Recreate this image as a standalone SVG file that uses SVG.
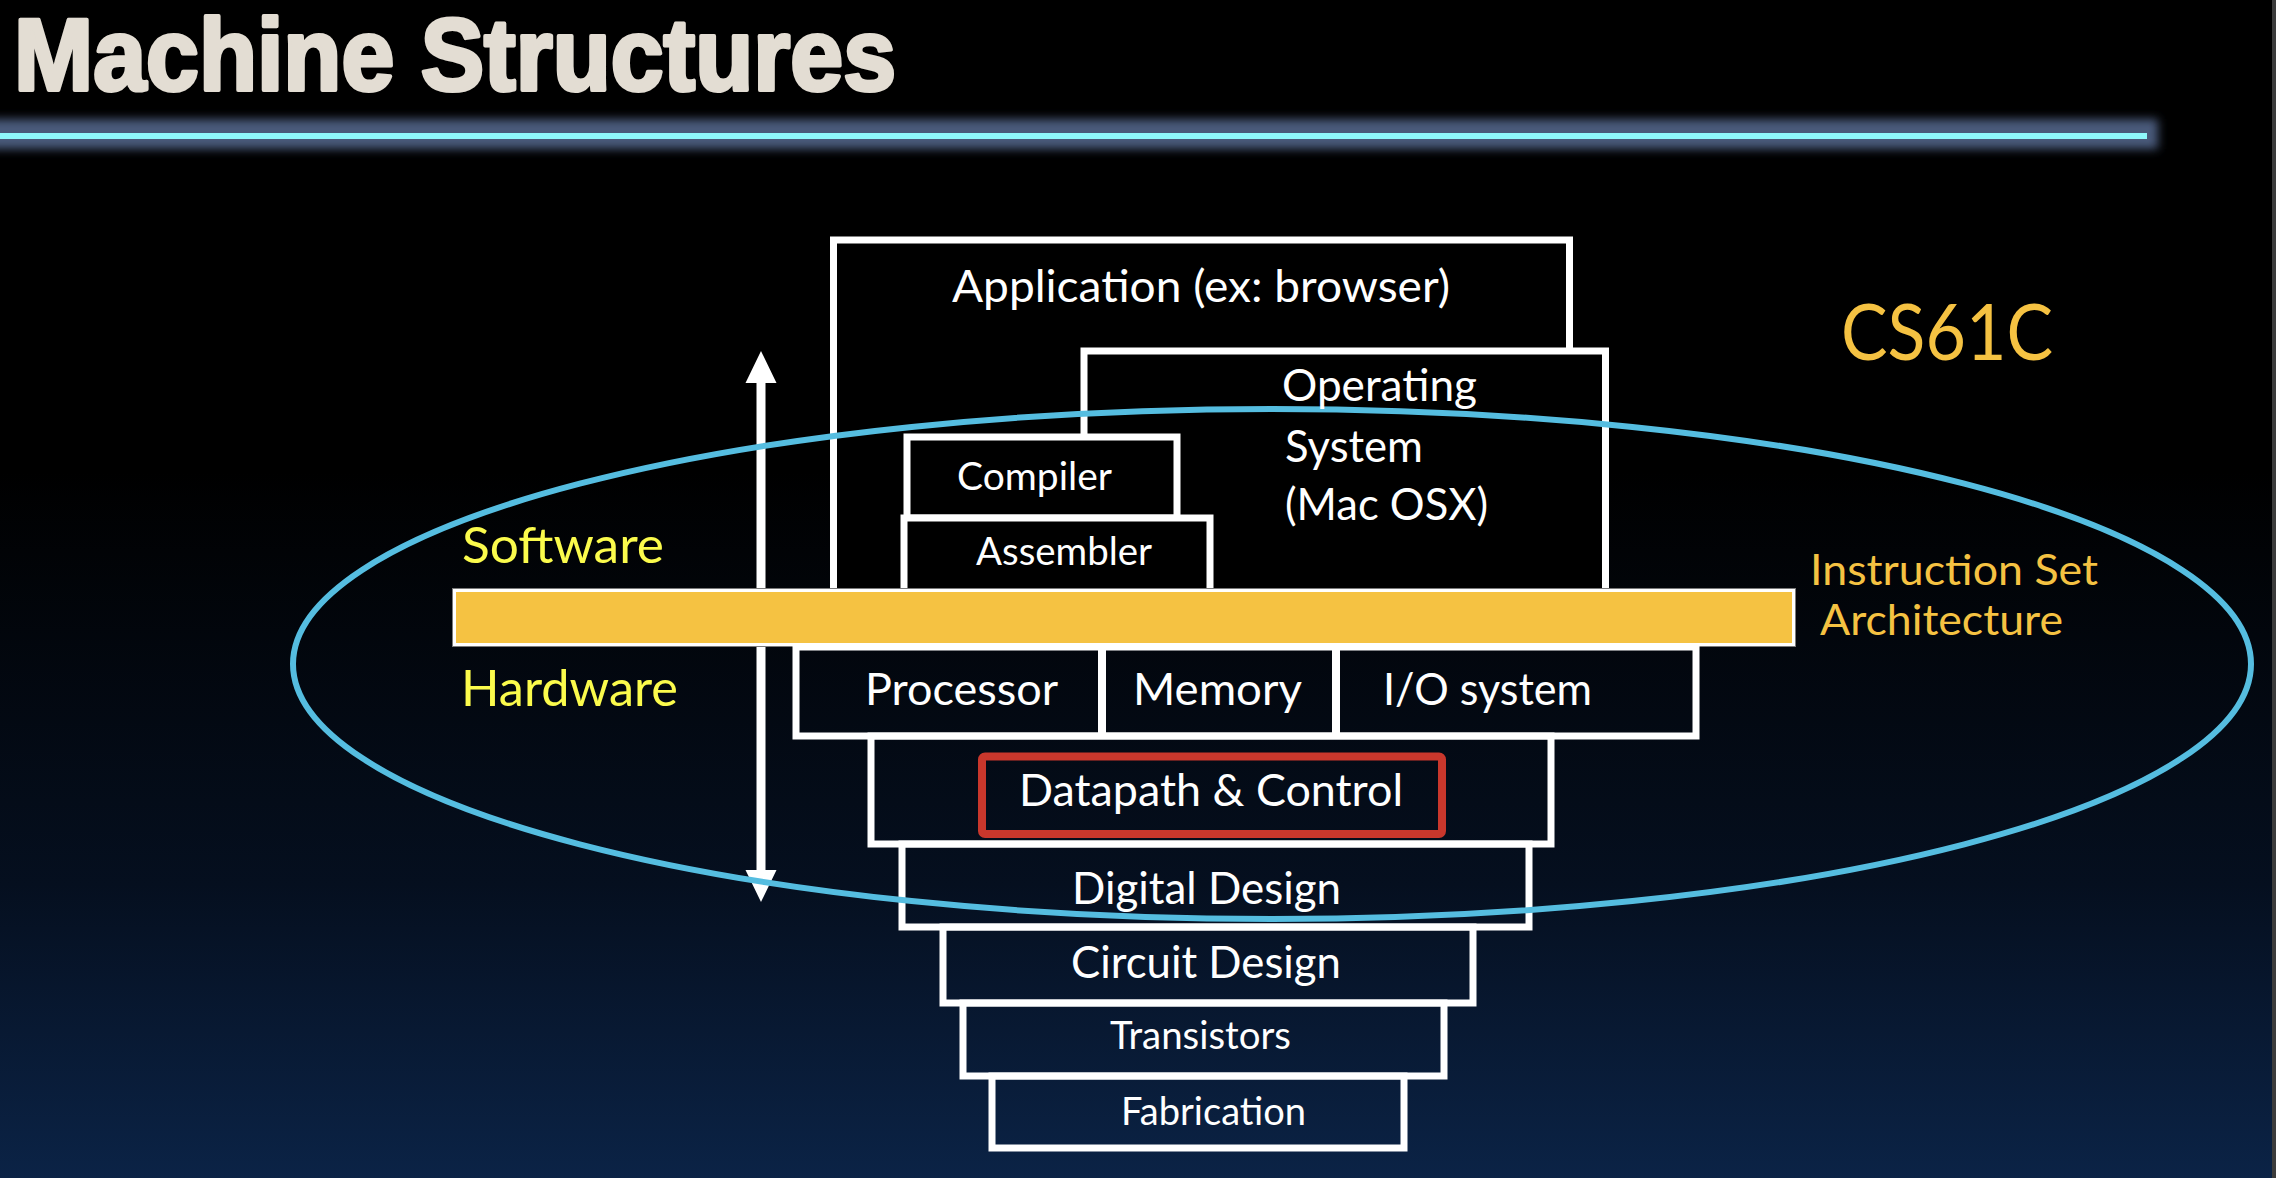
<svg xmlns="http://www.w3.org/2000/svg" width="2276" height="1178" viewBox="0 0 2276 1178">
<defs>
<linearGradient id="bg" x1="0" y1="0" x2="0" y2="1">
<stop offset="0" stop-color="#000000"/>
<stop offset="0.4" stop-color="#000000"/>
<stop offset="0.75" stop-color="#050f1f"/>
<stop offset="1" stop-color="#0b2346"/>
</linearGradient>
<filter id="glow" x="-5%" y="-100%" width="110%" height="300%">
<feGaussianBlur stdDeviation="5"/>
</filter>
</defs>
<style>
.title{font-family:"Liberation Sans",Arial,sans-serif;font-weight:bold;fill:#e3ddd3;stroke:#e3ddd3;stroke-width:4;stroke-linejoin:round}
.t{font-family:Lato,"Open Sans",sans-serif;fill:#ffffff}
.y{font-family:Lato,"Open Sans",sans-serif;fill:#fbfb4c}
.o{font-family:Lato,"Open Sans",sans-serif;fill:#f5c242}
.box{fill:#000000;stroke:#ffffff;stroke-width:7}
.hw{fill:none;stroke:#ffffff;stroke-width:7}
.arrow{fill:#ffffff}
</style>
<rect x="0" y="0" width="2276" height="1178" fill="url(#bg)"/>
<rect x="2272" y="0" width="4" height="1178" fill="#3c3c3c"/>

<g id="title">
<rect x="-20" y="119" width="2178" height="30" fill="#4a5a7a" filter="url(#glow)"/>
<rect x="0" y="133" width="2147" height="6" fill="#8ef8fb"/>
<text class="title" x="14" y="90" font-size="102" textLength="882" lengthAdjust="spacingAndGlyphs">Machine Structures</text>
</g>

<g id="connectors">
<path class="arrow" d="M761,351 L776.5,383 L765.5,383 L765.5,870 L776.5,870 L761,902 L745.5,870 L756.5,870 L756.5,383 L745.5,383 Z"/>
</g>

<g id="application"><rect class="box" x="833.5" y="240" width="736" height="360"/></g>
<g id="os"><rect class="box" x="1084" y="351" width="521.5" height="250"/></g>
<g id="compiler"><rect class="box" x="907" y="437" width="270" height="81"/></g>
<g id="assembler"><rect class="box" x="904" y="518" width="306" height="80"/></g>

<g id="isa">
<rect x="454.5" y="590.5" width="1339" height="54" fill="none" stroke="#7a7a7a" stroke-width="5"/>
<rect x="454.5" y="590.5" width="1339" height="54" fill="#f5c242" stroke="#ffffff" stroke-width="3"/>
</g>

<g id="row">
<rect class="hw" x="796" y="647" width="900" height="89"/>
<line x1="1102" y1="647" x2="1102" y2="736" stroke="#ffffff" stroke-width="8"/>
<line x1="1336" y1="647" x2="1336" y2="736" stroke="#ffffff" stroke-width="8"/>
</g>
<g id="datapath-box"><rect class="hw" x="871" y="736" width="680" height="108"/></g>
<g id="datapath-control"><rect x="982" y="756.5" width="460" height="77.5" rx="3" fill="none" stroke="#c9372c" stroke-width="8"/></g>
<g id="digital"><rect class="hw" x="902" y="844" width="627" height="83"/></g>
<g id="circuit"><rect class="hw" x="943" y="927" width="530" height="76"/></g>
<g id="transistors"><rect class="hw" x="963" y="1003" width="481" height="73"/></g>
<g id="fabrication"><rect class="hw" x="992" y="1076" width="412" height="72"/></g>

<g id="ellipse"><ellipse cx="1272" cy="664" rx="979" ry="255" fill="none" stroke="#55bde0" stroke-width="6"/></g>

<g id="labels">
<text class="t" x="952" y="302" font-size="44" textLength="498" lengthAdjust="spacingAndGlyphs">Application (ex: browser)</text>
<text class="t" x="1282" y="401" font-size="44" textLength="195" lengthAdjust="spacingAndGlyphs">Operating</text>
<text class="t" x="1285" y="462" font-size="44" textLength="138" lengthAdjust="spacingAndGlyphs">System</text>
<text class="t" x="1285" y="520" font-size="44" textLength="203" lengthAdjust="spacingAndGlyphs">(Mac OSX)</text>
<text class="t" x="957" y="490" font-size="39" textLength="155" lengthAdjust="spacingAndGlyphs">Compiler</text>
<text class="t" x="976" y="565" font-size="39" textLength="176" lengthAdjust="spacingAndGlyphs">Assembler</text>
<text class="t" x="865" y="705" font-size="44" textLength="193" lengthAdjust="spacingAndGlyphs">Processor</text>
<text class="t" x="1133" y="705" font-size="44" textLength="169" lengthAdjust="spacingAndGlyphs">Memory</text>
<text class="t" x="1383" y="705" font-size="44" textLength="209" lengthAdjust="spacingAndGlyphs">I/O system</text>
<text class="t" x="1019" y="806" font-size="44" textLength="384" lengthAdjust="spacingAndGlyphs">Datapath &amp; Control</text>
<text class="t" x="1072" y="904" font-size="44" textLength="269" lengthAdjust="spacingAndGlyphs">Digital Design</text>
<text class="t" x="1071" y="978" font-size="44" textLength="270" lengthAdjust="spacingAndGlyphs">Circuit Design</text>
<text class="t" x="1110" y="1049" font-size="39" textLength="181" lengthAdjust="spacingAndGlyphs">Transistors</text>
<text class="t" x="1121" y="1125" font-size="39" textLength="185" lengthAdjust="spacingAndGlyphs">Fabrication</text>
<text class="y" x="462" y="563" font-size="50" textLength="202" lengthAdjust="spacingAndGlyphs">Software</text>
<text class="y" x="461" y="706" font-size="50" textLength="217" lengthAdjust="spacingAndGlyphs">Hardware</text>
<text class="o" x="1841" y="360" font-size="78" textLength="212" lengthAdjust="spacingAndGlyphs">CS61C</text>
<text class="o" x="1810" y="585" font-size="43" textLength="288" lengthAdjust="spacingAndGlyphs">Instruction Set</text>
<text class="o" x="1820" y="635" font-size="43" textLength="243" lengthAdjust="spacingAndGlyphs">Architecture</text>
</g>
</svg>
